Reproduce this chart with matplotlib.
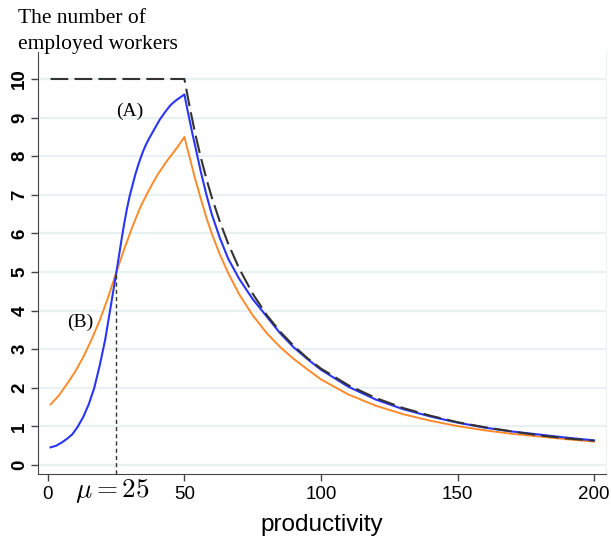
import matplotlib
matplotlib.use("Agg")
import matplotlib.pyplot as plt

plt.rcParams["mathtext.fontset"] = "cm"
plt.rcParams["font.family"] = ["Liberation Sans", "DejaVu Sans"]

# curve (A)
x_a = [1, 3, 5, 7, 9, 11, 13, 15, 17, 19, 21, 23, 25, 27, 28, 29, 30, 31, 32,
       33, 34, 35, 36, 37, 39, 41, 43, 45, 47, 50,
       51, 52, 53, 54, 56, 58, 60, 63, 66, 70, 75, 80, 85, 90, 95, 100, 110,
       120, 130, 140, 150, 160, 170, 180, 190, 200]
y_a = [0.46, 0.5, 0.58, 0.68, 0.8, 1.0, 1.25, 1.58, 2.0, 2.58, 3.25, 4.1, 4.95,
       5.85, 6.27, 6.65, 6.98, 7.25, 7.52, 7.75, 7.96, 8.15, 8.31, 8.45, 8.7,
       8.95, 9.15, 9.33, 9.45, 9.6,
       9.24, 8.9, 8.56, 8.25, 7.6, 7.02, 6.5, 5.88, 5.35, 4.83, 4.3, 3.86,
       3.42, 3.05, 2.75, 2.47, 2.03, 1.7, 1.45, 1.26, 1.1, 0.97, 0.87, 0.79,
       0.71, 0.64]

# curve (B)
x_b = [1, 4, 7, 10, 13, 16, 19, 22, 25, 28, 31, 34, 37, 40, 43, 46, 48, 50,
       51, 52, 53, 54, 56, 58, 60, 63, 66, 70, 75, 80, 85, 90, 95, 100, 110,
       120, 130, 140, 150, 160, 170, 180, 190, 200]
y_b = [1.57, 1.8, 2.1, 2.42, 2.8, 3.25, 3.75, 4.33, 4.98, 5.6, 6.18, 6.7, 7.12,
       7.5, 7.82, 8.1, 8.29, 8.5,
       8.22, 7.95, 7.67, 7.4, 6.9, 6.42, 6.0, 5.45, 4.98, 4.43, 3.88, 3.43,
       3.06, 2.75, 2.48, 2.22, 1.83, 1.54, 1.32, 1.15, 1.01, 0.9, 0.81, 0.74,
       0.67, 0.61]

# upper bound (dashed)
x_max = [1, 50, 52, 54, 56, 58, 60, 63, 66, 70, 75, 80, 85, 90, 95, 100, 110,
         120, 130, 140, 150, 160, 170, 180, 190, 200]
y_max = [10, 10, 9.25, 8.57, 7.97, 7.43, 6.94, 6.3, 5.74, 5.1, 4.44, 3.9, 3.46,
         3.09, 2.77, 2.5, 2.07, 1.74, 1.48, 1.28, 1.11, 0.98, 0.87, 0.77, 0.69,
         0.63]

mu = 25
y_at_mu = 5

fig = plt.figure(figsize=(6.11, 5.47), dpi=100)
ax = fig.add_axes([0.0622, 0.1335, 0.9298, 0.7715])

for yv in range(11):
    ax.axhline(yv, color="#eaf1f3", lw=1.6, zorder=0)

ax.plot(x_b, y_b, color="#ff8a2b", lw=1.4, zorder=2)
ax.plot(x_a, y_a, color="#2b35f5", lw=1.5, zorder=3)
ax.plot(x_max, y_max, color="#333333", lw=1.5, dashes=(8.5, 3), zorder=4)
ax.plot([mu, mu], [-0.23, y_at_mu], color="#333333", lw=1.0,
        dashes=(3, 2.2), zorder=4, clip_on=False)

serif = ["Liberation Serif", "DejaVu Serif"]
ax.text(30, 9.15, "(A)", fontsize=14, family=serif, ha="center", va="center")
ax.text(12, 3.7, "(B)", fontsize=14, family=serif, ha="center", va="center")
ax.text(23.5, -0.68, r"$\mu = 25$", fontsize=19.5, ha="center", va="center",
        clip_on=False)

ax.set_xlim(-3.6, 204.4)
ax.set_ylim(-0.23, 10.7)
ax.set_xticks([0, 50, 100, 150, 200])
ax.set_yticks(range(11))
ax.tick_params(axis="both", color="#444444", length=5, width=1)
ax.tick_params(axis="x", labelsize=13.5)
ax.tick_params(axis="y", labelsize=13.5, pad=2)
for lab in ax.get_yticklabels():
    lab.set_rotation(90)
    lab.set_va("center")
    lab.set_fontweight("bold")

ax.spines["top"].set_visible(False)
ax.spines["right"].set_color("#eaf1f3")
ax.spines["left"].set_color("#444444")
ax.spines["bottom"].set_color("#444444")

ax.set_xlabel("productivity", fontsize=17.5, labelpad=8)

fig.text(0.03, 0.967, "The number of", fontsize=15.5, family=serif,
         ha="left", va="center")
fig.text(0.03, 0.918, "employed workers", fontsize=15.5, family=serif,
         ha="left", va="center")

fig.savefig("out.png", dpi=100)
